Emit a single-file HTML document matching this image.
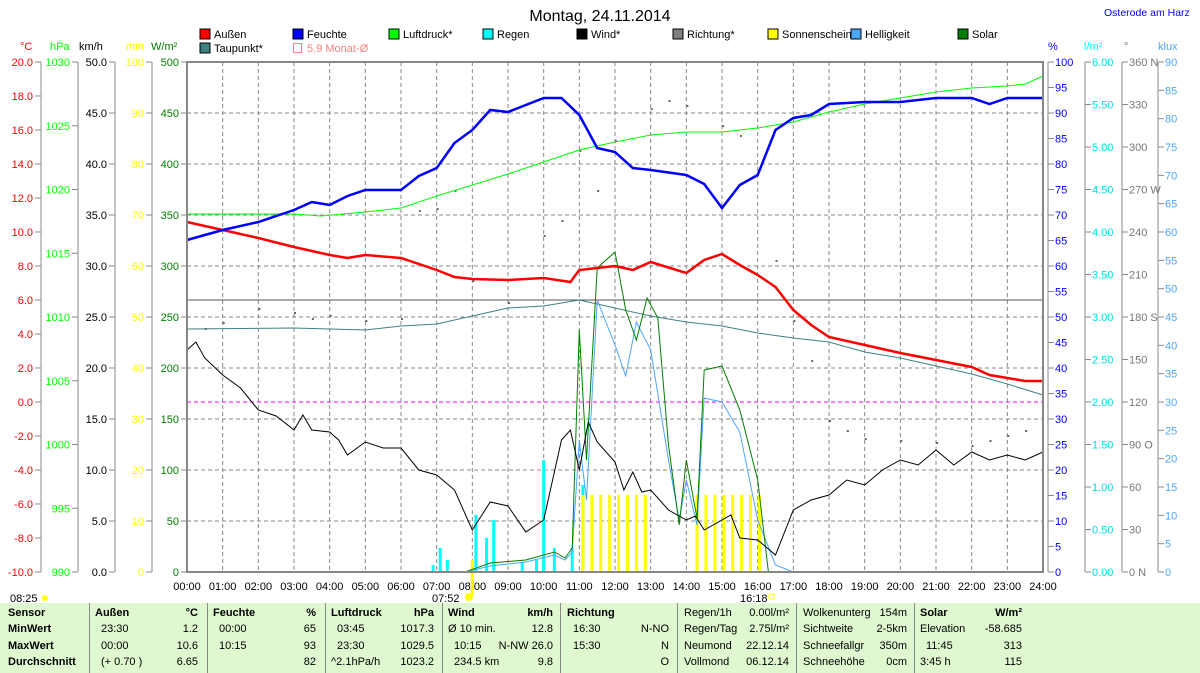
<!DOCTYPE html>
<html><head><meta charset="utf-8"><style>
body{margin:0;width:1200px;height:673px;background:#fff;overflow:hidden;font-family:"Liberation Sans",sans-serif;position:relative}
svg{position:absolute;left:0;top:0}
.tb{position:absolute;left:0;top:603px;width:1200px;height:70px;background:#e0f8d0;font-size:11px}
.tb div{position:absolute;white-space:nowrap}
.sep{width:1px;height:70px;background:#888;top:0}
</style></head><body>
<svg id="s" width="1200" height="603" font-family="Liberation Sans, sans-serif" font-size="11"></svg>
<div class="tb" id="tb"></div>
<script>
const s=document.getElementById('s');let h='';
const X=t=>187+35.667*t;
const P=(pts,c,w,extra)=>{h+=`<polyline fill="none" stroke="${c}" stroke-width="${w}" ${extra||''} points="${pts.map(p=>X(p[0]).toFixed(1)+','+p[1]).join(' ')}"/>`};
h+=`<text x="600" y="21" text-anchor="middle" font-size="16">Montag, 24.11.2014</text>`;
h+=`<text x="1104" y="16" fill="#0000ff" font-size="10.5">Osterode am Harz</text>`;
const lg=[[200,38,'#ff0000','Außen'],[293,38,'#0000ff','Feuchte'],[389,38,'#00ff00','Luftdruck*'],[483,38,'#00ffff','Regen'],[577,38,'#000000','Wind*'],[673,38,'#808080','Richtung*'],[768,38,'#ffff00','Sonnenschein'],[851,38,'#4da6ff','Helligkeit'],[958,38,'#008000','Solar'],[200,52,'#408080','Taupunkt*']];
lg.forEach(l=>{h+=`<rect x="${l[0]}" y="${l[1]-9}" width="10" height="10" fill="${l[2]}" stroke="#000"/><text x="${l[0]+14}" y="${l[1]}" font-size="11">${l[3]}</text>`});
h+=`<rect x="293.5" y="43.5" width="8" height="9" fill="none" stroke="#ff8080"/><text x="307" y="52" font-size="11" fill="#ff8080">5.9 Monat-Ø</text>`;
for(let i=1;i<24;i++)h+=`<line x1="${X(i)}" y1="62" x2="${X(i)}" y2="572" stroke="#888" stroke-dasharray="4,3"/>`;
for(let v=50;v<500;v+=50){let y=572-v*1.02;h+=`<line x1="187" y1="${y}" x2="1043" y2="${y}" stroke="#888" stroke-dasharray="4,3"/>`}
h+=`<line x1="187" y1="300" x2="1043" y2="300" stroke="#555"/>`;
h+=`<line x1="187" y1="402" x2="1043" y2="402" stroke="#ff00ff" stroke-dasharray="4,3"/>`;
function axis(x,col,top,bot,vals){h+=`<line x1="${x}" y1="${top}" x2="${x}" y2="${bot}" stroke="#888"/>`;vals.forEach((v,i)=>{let y=top+(bot-top)*i/(vals.length-1);h+=`<line x1="${x-6}" y1="${y}" x2="${x}" y2="${y}" stroke="#888"/>`;if(v!==null)h+=`<text x="${x-8}" y="${y+4}" text-anchor="end" fill="${col}">${v}</text>`})}
let a=[];for(let v=20;v>=-10;v-=2)a.push(v.toFixed(1));axis(41,'#ff0000',62,572,a);
a=[];for(let v=1030;v>=990;v-=5)a.push(v);axis(78,'#00ff00',62,572,a);
a=[];for(let v=50;v>=0;v-=5)a.push(v.toFixed(1));axis(115,'#000',62,572,a);
a=[];for(let v=100;v>=0;v-=10)a.push(v);axis(152,'#ffff00',62,572,a);
a=[];for(let v=500;v>=0;v-=50)a.push(v);axis(187,'#008000',62,572,a);
[[20,'#ff0000','°C'],[50,'#00ff00','hPa'],[79,'#000','km/h'],[126,'#ffff00','min'],[151,'#008000','W/m²']].forEach(u=>h+=`<text x="${u[0]}" y="50" fill="${u[1]}">${u[2]}</text>`);
function raxis(x,col,vals,n){h+=`<line x1="${x}" y1="62" x2="${x}" y2="572" stroke="#888"/>`;for(let i=0;i<n;i++){let y=62+510*i/(n-1);h+=`<line x1="${x}" y1="${y}" x2="${x+6}" y2="${y}" stroke="#888"/>`;if(vals[i]!==undefined)h+=`<text x="${x+7}" y="${y+4}" fill="${col}">${vals[i]}</text>`}}
a=[];for(let v=100;v>=0;v-=5)a.push(v);raxis(1048,'#0000ff',a,21);
a=[];for(let v=6;v>=0;v-=0.5)a.push(v.toFixed(2));raxis(1085,'#00e0e0',a,13);
a=[];for(let v=360;v>=0;v-=30)a.push(v+({360:' N',270:' W',180:' S',90:' O',0:' N'}[v]||''));raxis(1122,'#777',a,13);
a=[];for(let v=90;v>=0;v-=5)a.push(v);raxis(1158,'#4da6ff',a,19);
[[1048,'#0000ff','%'],[1084,'#00ffff','l/m²'],[1124,'#777','°'],[1158,'#4da6ff','klux']].forEach(u=>h+=`<text x="${u[0]}" y="50" fill="${u[1]}">${u[2]}</text>`);
for(let i=0;i<=24;i++)h+=`<text x="${X(i)}" y="590" text-anchor="middle">${String(i).padStart(2,'0')}:00</text>`;
h+=`<text x="10" y="602">08:25</text><circle cx="45" cy="598" r="3" fill="#ffff00"/><text x="432" y="602">07:52</text><circle cx="469" cy="597" r="4" fill="#ffff00"/><text x="740" y="602">16:18</text><rect x="769" y="594" width="5" height="5" fill="none" stroke="#ffff00"/>`;
[[6.9,565],[7.1,548],[7.3,560],[8.1,515],[8.4,538],[8.6,520],[9.4,562],[9.8,560],[10,460],[10.3,548],[10.8,548],[11.1,485]].forEach(r=>h+=`<line x1="${X(r[0])}" y1="${r[1]}" x2="${X(r[0])}" y2="572" stroke="#00ffff" stroke-width="3"/>`);
for(let t=11.1;t<=12.95;t+=0.25)h+=`<line x1="${X(t)}" y1="495" x2="${X(t)}" y2="572" stroke="#ffff00" stroke-width="3"/>`;
for(let t=14.3;t<=16.1;t+=0.25)h+=`<line x1="${X(t)}" y1="495" x2="${X(t)}" y2="572" stroke="#ffff00" stroke-width="3"/>`;
h+=`<line x1="${X(8)}" y1="560" x2="${X(8)}" y2="595" stroke="#ffff00" stroke-width="3"/>`;
[[0.5,328],[1,322],[2,308],[3,312],[3.5,318],[4,315],[5,320],[6,318],[6.5,210],[7,208],[7.5,190],[8,280],[9,302],[10,235],[10.5,220],[11,150],[11.5,190],[12,140],[13,108],[13.5,100],[14,105],[15,125],[15.5,135],[16.5,260],[17,320],[17.5,360],[18,420],[18.5,430],[19,438],[20,440],[21,442],[22,445],[22.5,440],[23,435],[23.5,430]].forEach(d=>h+=`<rect x="${X(d[0])}" y="${d[1]}" width="2" height="2" fill="#666"/>`);
P([[0,329],[3,328],[5,330],[6,326],[7,324],[8,316],[9,308],[10,306],[11,300],[12,308],[13,316],[14,322],[15,326],[16,333],[17,338],[18,342],[19,352],[20,358],[21,366],[22,374],[23,384],[24,395]],'#408080',1);
P([[0,214],[3,214],[3.75,216],[5,212],[6,208],[7,196],[8,185],[9,174],[10,162],[11,150],[12,142],[13,135],[14,132],[15,132],[16,128],[17,122],[18,112],[19,104],[20,98],[21,92],[22,88],[23,86],[23.5,84],[24,76]],'#00ff00',1);
P([[7.8,572],[8.5,566],[9.5,562],[10.3,555],[10.6,560],[10.8,552],[11,440],[11.2,500],[11.5,300],[12,345],[12.3,376],[12.6,322],[13,350],[13.5,460],[13.8,520],[14,480],[14.3,525],[14.5,398],[15,402],[15.5,432],[16,520],[16.5,565],[17,572]],'#4da6ff',1);
P([[7.8,572],[8.5,563],[9.5,560],[10.3,552],[10.6,558],[10.8,548],[11,330],[11.2,460],[11.5,268],[12,252],[12.3,310],[12.6,340],[12.9,298],[13.2,318],[13.5,445],[13.8,525],[14,460],[14.3,518],[14.5,370],[15,366],[15.5,410],[16,480],[16.3,572]],'#008000',1);
P([[0,350],[0.25,342],[0.5,358],[1,375],[1.5,388],[2,410],[2.5,416],[3,430],[3.25,415],[3.5,430],[4,432],[4.25,440],[4.5,455],[5,442],[5.5,448],[6,448],[6.5,470],[7,475],[7.5,490],[8,530],[8.5,502],[9,506],[9.5,532],[10,520],[10.5,440],[10.75,430],[11,470],[11.25,422],[11.5,442],[12,462],[12.25,490],[12.5,472],[12.75,492],[13,490],[13.5,510],[14,520],[14.25,516],[14.5,530],[15,520],[15.25,515],[15.5,538],[16,540],[16.5,555],[17,510],[17.5,500],[18,495],[18.5,480],[19,485],[19.5,470],[20,460],[20.5,465],[21,450],[21.5,465],[22,452],[22.5,460],[23,455],[23.5,460],[24,452]],'#000',1);
P([[0,222],[1,230],[2,238],[3,247],[4,255],[4.5,258],[5,255],[6,258],[7,270],[7.5,277],[8,279],[9,280],[10,278],[10.75,282],[11,270],[12,266],[12.5,270],[13,262],[14,273],[14.5,260],[15,254],[15.5,265],[16,275],[16.5,287],[17,310],[17.5,325],[18,337],[19,345],[20,353],[21,360],[22,367],[22.5,375],[23,378],[23.5,381],[24,381]],'#ff0000',2.5);
P([[0,240],[1,230],[2,222],[3,210],[3.5,202],[4,205],[4.5,196],[5,190],[6,190],[6.5,176],[7,168],[7.5,143],[8,130],[8.5,110],[9,112],[10,98],[10.5,98],[11,115],[11.5,148],[12,152],[12.5,168],[13,170],[14,175],[14.5,184],[15,208],[15.5,185],[16,175],[16.5,130],[17,118],[17.5,115],[18,104],[19,102],[20,102],[21,98],[22,98],[22.5,104],[23,98],[24,98]],'#0000ff',2.5);
h+=`<rect x="187" y="62" width="856" height="510" fill="none" stroke="#888" stroke-width="2"/>`;
s.innerHTML=h;
const T=document.getElementById('tb');let t='';
[89,207,325,442,560,677,796,914].forEach(x=>t+=`<div class="sep" style="left:${x}px"></div>`);
const rows=[15,31,48,64];
const L=(x,r,txt,b)=>t+=`<div style="left:${x}px;top:${rows[r]-11}px;${b?'font-weight:bold':''}">${txt}</div>`;
const R=(x,r,txt,b)=>t+=`<div style="right:${1200-x}px;top:${rows[r]-11}px;${b?'font-weight:bold':''}">${txt}</div>`;
['Sensor','MinWert','MaxWert','Durchschnitt'].forEach((v,i)=>L(8,i,v,1));
L(95,0,'Außen',1);R(198,0,'°C',1);L(101,1,'23:30');R(198,1,'1.2');L(101,2,'00:00');R(198,2,'10.6');L(101,3,'(+ 0.70 )');R(198,3,'6.65');
L(213,0,'Feuchte',1);R(316,0,'%',1);L(219,1,'00:00');R(316,1,'65');L(219,2,'10:15');R(316,2,'93');R(316,3,'82');
L(331,0,'Luftdruck',1);R(434,0,'hPa',1);L(337,1,'03:45');R(434,1,'1017.3');L(337,2,'23:30');R(434,2,'1029.5');L(331,3,'^2.1hPa/h');R(434,3,'1023.2');
L(448,0,'Wind',1);R(553,0,'km/h',1);L(448,1,'Ø 10 min.');R(553,1,'12.8');L(454,2,'10:15');R(553,2,'N-NW 26.0');L(454,3,'234.5 km');R(553,3,'9.8');
L(567,0,'Richtung',1);L(573,1,'16:30');R(669,1,'N-NO');L(573,2,'15:30');R(669,2,'N');R(669,3,'O');
L(684,0,'Regen/1h');R(789,0,'0.00l/m²');L(684,1,'Regen/Tag');R(789,1,'2.75l/m²');L(684,2,'Neumond');R(789,2,'22.12.14');L(684,3,'Vollmond');R(789,3,'06.12.14');
L(803,0,'Wolkenunterg');R(907,0,'154m');L(803,1,'Sichtweite');R(907,1,'2-5km');L(803,2,'Schneefallgr');R(907,2,'350m');L(803,3,'Schneehöhe');R(907,3,'0cm');
L(920,0,'Solar',1);R(1022,0,'W/m²',1);L(920,1,'Elevation');R(1022,1,'-58.685');L(926,2,'11:45');R(1022,2,'313');L(920,3,'3:45 h');R(1022,3,'115');
T.innerHTML=t;
</script>
</body></html>
